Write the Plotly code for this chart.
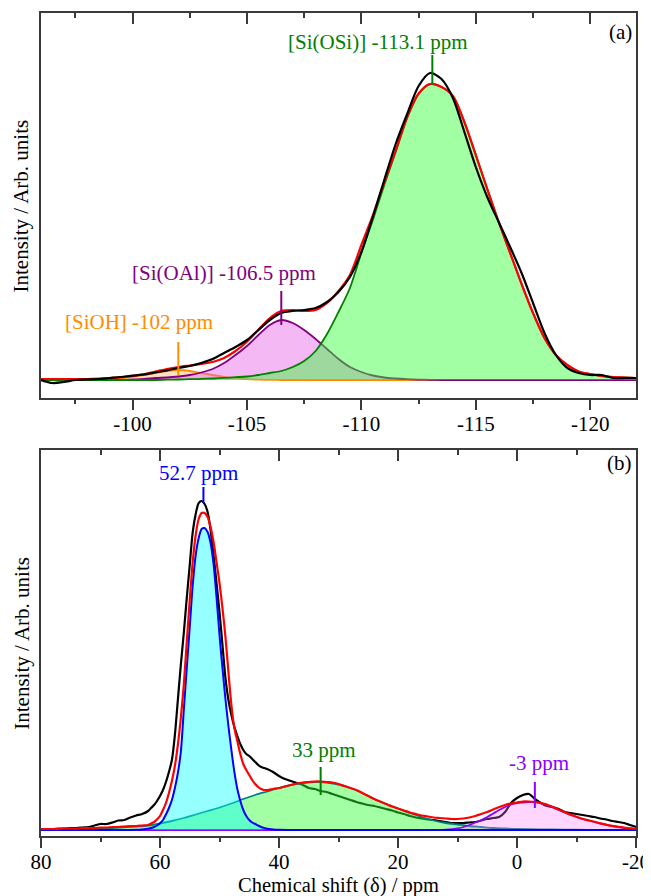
import plotly.graph_objects as go

# ---------------- data: panel (a) 29Si ----------------
ppm_a = [-96.0, -96.5, -97.0, -97.5, -98.0, -98.5, -99.0, -99.5, -100.0, -100.5,
         -101.0, -101.5, -102.0, -102.5, -103.0, -103.5, -104.0, -104.5, -105.0, -105.5,
         -106.0, -106.5, -107.0, -107.5, -108.0, -108.5, -109.0, -109.5, -110.0, -110.5,
         -111.0, -111.5, -112.0, -112.5, -113.0, -113.5, -114.0, -114.5, -115.0, -115.5,
         -116.0, -116.5, -117.0, -117.5, -118.0, -118.5, -119.0, -119.5, -120.0, -120.5,
         -121.0, -121.5, -122.0]
exp_a = [0, -3, -2, 0, 0.5, 1, 2, 3, 4.3, 5.5,
         7.5, 9.5, 12, 14, 17, 21, 27, 33, 40, 50,
         60, 67, 69, 70, 72, 78, 88, 103, 128, 163,
         200, 236, 266, 294, 307, 301, 282, 248, 213, 183,
         158, 133, 107, 77, 47, 25, 12, 7, 5, 5,
         2, 2, 2]
fit_a = [1, 1, 1, 1, 1, 1.3, 1.8, 2.8, 4.2, 5.8,
         8.5, 11, 13, 14.5, 16, 18, 22, 29, 38.3, 50.3,
         62, 69, 70, 69, 70, 77, 89, 105, 135, 164.5,
         197.5, 229.5, 263, 286.5, 296, 293, 284, 258, 225, 191,
         158, 127, 96, 67, 42, 25, 15, 8.5, 6, 4,
         3, 2.5, 2]
siosi_a = [0, 0, 0, 0, 0, 0, 0, 0, 0, 0,
           0, 0.3, 0.5, 0.8, 1.1, 1.5, 2.1, 2.8, 3.5, 5,
           7, 9, 13, 19, 29, 46, 68, 92, 127, 160,
           195, 228, 262, 286, 296, 293, 284, 258, 225, 191,
           158, 127, 96, 67, 42, 25, 15, 8.5, 6, 4,
           3, 2.5, 2]
sioal_a = [0, 0, 0, 0, 0, 0, 0, 0, 0.5, 1,
           2, 2.5, 3.5, 5, 7.5, 11, 17, 25, 34, 45,
           55, 60, 57, 50, 41, 31, 21, 13, 8, 4.5,
           2.5, 1.5, 0.8, 0.4, 0.2, 0, 0, 0, 0, 0,
           0, 0, 0, 0, 0, 0, 0, 0, 0, 0,
           0, 0, 0]
sioh_a = [0, 0, 0, 0, 0, 0.3, 0.8, 1.8, 3.2, 5,
          7, 9, 10, 9, 7, 5, 3.2, 1.8, 0.8, 0.3,
          0.1, 0, 0, 0, 0, 0, 0, 0, 0, 0,
          0, 0, 0, 0, 0, 0, 0, 0, 0, 0,
          0, 0, 0, 0, 0, 0, 0, 0, 0, 0,
          0, 0, 0]
ticks_a = [-100, -105, -110, -115, -120]
ticktext_a = ['-100', '-105', '-110', '-115', '-120']
minor_a = [-97.5, -102.5, -107.5, -112.5, -117.5]
labels_a = ['[SiOH] -102 ppm', '[Si(OAl)] -106.5 ppm', '[Si(OSi)] -113.1 ppm']
centers_a = [-102.0, -106.5, -113.1]

# ---------------- data: panel (b) 27Al ----------------
ppm_b = [80, 79, 78, 77, 76, 75, 74, 73, 72, 71, 70, 69, 68, 67, 66, 65, 64, 63,
         62, 61.5, 61, 60.5, 60, 59.5, 59, 58.5, 58, 57.5, 57, 56.5, 56, 55.5, 55, 54.5,
         54, 53.5, 53, 52.5, 52, 51.5, 51, 50.5, 50, 49.5, 49, 48.5, 48, 47.5, 47, 46.5,
         46, 45.5, 45, 44.5, 44, 43.5, 43, 42.5, 42,
         41, 40, 39, 38, 37, 36, 35, 34, 33, 32, 31, 30, 29, 28, 27, 26, 25, 24, 23, 22,
         21, 20, 19, 18, 17, 16, 15, 14, 13, 12, 11, 10, 9, 8, 7, 6, 5, 4, 3, 2,
         1, 0, -1, -2, -3, -4, -5, -6, -7, -8, -9, -10, -11, -12, -13, -14, -15, -16, -17,
         -18, -19, -20]
exp_b = [1, 1, 1, 1.5, 1.5, 2, 2, 2.5, 3, 4.5, 6, 6, 7.5, 9.5, 10, 12.5, 14.5, 16,
         19, 22, 25, 29, 34, 40, 48, 58, 70, 95, 130, 165, 197, 232, 265, 298,
         316, 327, 329, 326, 318, 300, 275, 247, 218, 185, 152, 130, 115, 103, 94, 86,
         80, 76, 74, 71, 68, 65, 63, 62, 61,
         58, 54, 51, 49, 47, 45, 42, 41, 39, 38, 36, 34, 32, 30, 28, 26.5, 25, 24, 22.5, 21,
         19.5, 17.5, 16, 14, 12.5, 11.5, 10.5, 10, 9, 8, 7, 7, 7, 7.5, 8, 9.5, 11, 12, 13, 18,
         27, 32, 35, 36, 31, 27, 24, 23, 21, 18, 17, 16, 15, 14, 13, 11.5, 10.5, 9, 8,
         7, 5, 3]
fit_b = [1, 1, 1, 1, 1.5, 1.5, 1.5, 2, 2, 2, 2.5, 2.5, 3, 3, 3.5, 4, 4, 4.5,
         5, 6.5, 8, 10.5, 14, 20, 27, 37, 49, 64, 85, 112, 145, 188, 230, 268,
         295, 311, 317, 317, 313, 303, 288, 268, 247, 222, 193, 158, 125, 102, 89, 76,
         66, 60, 55, 50, 46, 43, 41, 40, 40,
         41, 42, 43.5, 45, 46.5, 47.5, 48, 48.5, 48.5, 48, 47.5, 46, 44, 42, 40, 37, 34, 31, 28.5, 26,
         23.5, 21.5, 19.5, 17.5, 16, 14.5, 13.5, 12.5, 12, 11.5, 11, 11, 11.5, 12.5, 14, 16, 18, 20.5, 23, 25,
         26.5, 27.5, 28.5, 28.5, 28, 27, 25.5, 23, 20.5, 18, 15.5, 13.3, 11.2, 9.7, 8.2, 6.6, 5.3, 4.1, 3.1,
         2.3, 1.6, 1]
ppm_b_al4 = [80, 70, 66, 64, 63, 62, 61.5, 61, 60.5, 60, 59.5, 59, 58.5, 58, 57.5, 57, 56.5,
             56, 55.5, 55, 54.5, 54, 53.5, 53, 52.5, 52, 51.5, 51, 50.5, 50, 49.5, 49, 48.5,
             48, 47.5, 47, 46.5, 46, 45.5, 45, 44.5, 44, 43, 42, 41, 40, 38, 30, -20]
al4_b = [0, 0, 0.1, 0.3, 0.6, 1.2, 2, 3, 4.5, 6.7, 10, 15.5, 22, 30, 42, 57, 78,
         120, 162, 203, 245, 275, 292, 301, 302, 298, 287, 266, 233, 195, 162, 131, 104,
         80, 58, 41, 29, 20, 14, 10, 7.5, 6, 3, 1.2, 0.5, 0.2, 0, 0, 0]
ppm_b_al5 = [80, 76, 72, 68, 64, 62, 60, 58, 56, 54, 52, 50, 48, 46, 44, 42, 40, 38, 36, 34,
             33, 32, 30, 28, 26, 24, 22, 20, 18, 16, 14, 12, 10, 8, 6, 4, 2, 0, -4, -8,
             -12, -16, -20]
al5_b = [0.5, 0.8, 1.2, 2, 3.5, 4.5, 6.5, 9, 12, 15.5, 19, 22.5, 26.5, 31, 35, 38.5, 42, 45, 47, 48,
         48, 47.5, 45.5, 42, 37, 31, 26, 21.5, 17, 13, 9.5, 7, 5.5, 4, 3, 2, 1.5, 1, 0.6, 0.4,
         0.2, 0.1, 0]
ppm_b_al6 = [80, 20, 12, 10, 9, 8, 7, 6, 5, 4, 3, 2, 1, 0, -1, -2, -3, -4, -5, -6, -7, -8,
             -9, -10, -11, -12, -13, -14, -15, -16, -17, -18, -19, -20]
al6_b = [0, 0, 0.3, 1.5, 3, 5, 7.5, 10, 13, 16.5, 20, 23, 25.5, 27, 27.5, 28, 28, 27, 25, 22.5,
         20, 17.5, 15, 13, 11, 9.5, 8, 6.5, 5.2, 4, 3, 2.2, 1.5, 1]
ticks_b = [80, 60, 40, 20, 0, -20]
ticktext_b = ['80', '60', '40', '20', '0', '-20']
minor_b = [70, 50, 30, 10, -10]
labels_b = ['52.7 ppm', '33 ppm', '-3 ppm']
centers_b = [52.7, 33.0, -3.0]

# ---------------- styling ----------------
FONT = 'Liberation Serif'
AXC = '#3a3a3a'
fs = 21

fig = go.Figure()

def add(x, y, xa, ya, color, width=2, fill=None, fillcolor=None):
    kw = dict(x=x, y=y, mode='lines', xaxis=xa, yaxis=ya, hoverinfo='skip',
              line=dict(color=color, width=width, shape='spline', smoothing=0.8),
              showlegend=False)
    if fill:
        kw.update(fill='tozeroy', fillcolor=fillcolor)
    fig.add_trace(go.Scatter(**kw))

# panel (a)
add(ppm_a, sioh_a, 'x', 'y', '#ff8c00', 1.8, True, 'rgba(255,160,60,0.30)')
add(ppm_a, sioal_a, 'x', 'y', '#800080', 1.8, True, 'rgba(230,100,230,0.45)')
add(ppm_a, siosi_a, 'x', 'y', '#008000', 1.8, True, 'rgba(50,255,50,0.45)')
add(ppm_a, fit_a, 'x', 'y', '#ff0000', 2.2)
add(ppm_a, exp_a, 'x', 'y', '#000000', 2.2)

# panel (b)
add(ppm_b, exp_b, 'x2', 'y2', '#000000', 2.2)
add(ppm_b_al5, al5_b, 'x2', 'y2', '#008080', 1.8, True, 'rgba(50,255,50,0.45)')
add(ppm_b_al6, al6_b, 'x2', 'y2', '#8b00ff', 1.8, True, 'rgba(255,120,255,0.30)')
add(ppm_b_al4, al4_b, 'x2', 'y2', '#0000ff', 2.0, True, 'rgba(0,255,255,0.41)')
add(ppm_b, fit_b, 'x2', 'y2', '#ff0000', 2.2)

# empty traces so that the tick-only overlay axes are always drawn
for xa, ya in [('x3', 'y'), ('x4', 'y2'), ('x5', 'y'), ('x6', 'y2')]:
    fig.add_trace(go.Scatter(x=[], y=[], xaxis=xa, yaxis=ya, mode='lines',
                             hoverinfo='skip', showlegend=False))

tickfont = dict(family=FONT, size=fs, color='black')

def xax(rng, tv, tt, anchor):
    # main axis: frame line + tick labels (tick marks drawn by overlay axes)
    return dict(range=rng, anchor=anchor, tickmode='array', tickvals=tv, ticktext=tt,
                ticks='', showline=True, linecolor=AXC, linewidth=1.5, mirror=True,
                automargin=False, showgrid=False, zeroline=False, tickfont=tickfont,
                ticklabelstandoff=6)

def xticks(rng, tv, mv, over, anchor, side, direction):
    return dict(range=rng, overlaying=over, anchor=anchor, side=side, tickmode='array',
                tickvals=tv, ticks=direction, ticklen=11, tickwidth=1.5, tickcolor=AXC,
                showticklabels=False, showline=False, showgrid=False, zeroline=False,
                automargin=False,
                minor=dict(tickmode='array', tickvals=mv, ticks=direction, ticklen=5,
                           tickwidth=1.5, tickcolor=AXC, showgrid=False))

def yax(rng, domain, anchor):
    return dict(range=rng, domain=domain, anchor=anchor, showline=True, linecolor=AXC,
                linewidth=1.5, mirror=True, ticks='', showticklabels=False,
                showgrid=False, zeroline=False, automargin=False)

# the page adds an 8 px body margin, so the figure is 8 px smaller on each axis
fig.update_layout(
    width=643, height=888,
    margin=dict(l=33, r=15, t=5, b=60),
    paper_bgcolor='white', plot_bgcolor='white',
    showlegend=False,
    xaxis=xax([-96, -122], ticks_a, ticktext_a, 'y'),
    yaxis=yax([-18, 367], [0.5322, 1.0], 'x'),
    xaxis2=xax([80, -20], ticks_b, ticktext_b, 'y2'),
    yaxis2=yax([-6, 380.5], [0.0, 0.4696], 'x2'),
    xaxis3=xticks([-96, -122], ticks_a, minor_a, 'x', 'y', 'top', 'inside'),
    xaxis4=xticks([80, -20], ticks_b, minor_b, 'x2', 'y2', 'top', 'inside'),
    xaxis5=xticks([-96, -122], ticks_a, minor_a, 'x', 'y', 'bottom', 'outside'),
    xaxis6=xticks([80, -20], ticks_b, minor_b, 'x2', 'y2', 'bottom', 'outside'),
)

# peak labels and markers
lab_pos_a = [(-100.28, 58), (-104.0, 107), (-110.7, 338)]
mark_a = [(5, 38), (55, 89), (295, 325)]
col_a = ['#ff8c00', '#800080', '#008000']
lab_pos_b = [(53.6, 357), (32.4, 80), (-3.7, 67)]
mark_b = [(327, 343), (35, 63), (22, 48)]
col_b = ['#0000ff', '#008000', '#8b00ff']

anns = []
shapes = []
for labs, cents, pos, mk, cols, xr, yr in [
        (labels_a, centers_a, lab_pos_a, mark_a, col_a, 'x', 'y'),
        (labels_b, centers_b, lab_pos_b, mark_b, col_b, 'x2', 'y2')]:
    for t, c, p, m, col in zip(labs, cents, pos, mk, cols):
        anns.append(dict(text=t, x=p[0], y=p[1], xref=xr, yref=yr, showarrow=False,
                         xanchor='center', yanchor='middle',
                         font=dict(family=FONT, size=fs, color=col)))
        shapes.append(dict(type='line', xref=xr, yref=yr, x0=c, x1=c, y0=m[0], y1=m[1],
                           line=dict(color=col, width=2)))

txt = dict(family=FONT, size=fs, color='black')
anns.append(dict(text='(a)', x=0.997, y=0.9506, xref='x domain', yref='y domain',
                 showarrow=False, xanchor='right', yanchor='middle', font=txt))
anns.append(dict(text='(b)', x=0.997, y=0.965, xref='x2 domain', yref='y2 domain',
                 showarrow=False, xanchor='right', yanchor='middle', font=txt))
anns.append(dict(text='Chemical shift (δ) / ppm', x=0.5, y=-0.0607, xref='paper', yref='paper',
                 showarrow=False, xanchor='center', yanchor='middle', borderpad=0,
                 font=dict(family=FONT, size=20.5, color='black')))
for yref in ['y domain', 'y2 domain']:
    anns.append(dict(text='Intensity / Arb. units', x=-0.032, y=0.5, xref='paper', yref=yref,
                     textangle=-90, showarrow=False, xanchor='center', yanchor='middle',
                     font=txt))

fig.update_layout(annotations=anns, shapes=shapes)
fig.write_html('out.html')
